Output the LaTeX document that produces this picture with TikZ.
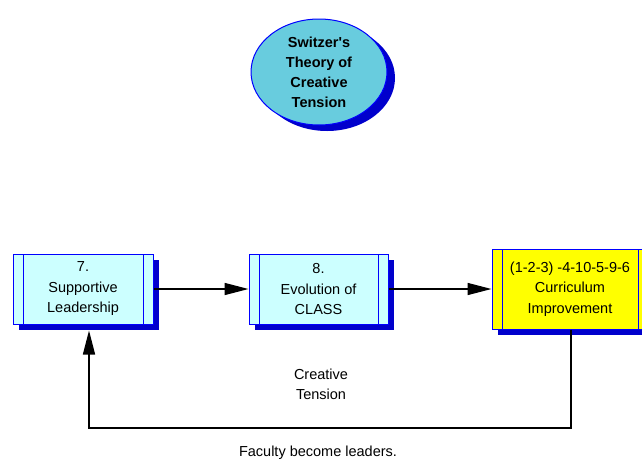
\documentclass[tikz,border=0pt]{standalone}
\usepackage{fontspec}
\setmainfont{Liberation Sans}
\usetikzlibrary{arrows.meta,shadows,shapes.geometric}

\definecolor{ellcyan}{RGB}{104,204,222}
\definecolor{boxcyan}{RGB}{204,255,255}
\definecolor{boxyellow}{RGB}{255,255,0}
\definecolor{edgeblue}{RGB}{0,0,255}
\definecolor{shadeblue}{RGB}{0,0,204}

\tikzset{
	stage/.style={draw=edgeblue, line width=1pt, fill=boxcyan, align=center, inner sep=0pt,
		font=\fontsize{14.5}{20.5}\selectfont,
		drop shadow={shadow xshift=6pt, shadow yshift=-6pt, fill=shadeblue, opacity=1},
		path picture={
			\draw[edgeblue, line width=1pt]
				([xshift=10pt]path picture bounding box.north west) -- ([xshift=10pt]path picture bounding box.south west)
				([xshift=-10pt]path picture bounding box.north east) -- ([xshift=-10pt]path picture bounding box.south east);
		}},
	theory/.style={ellipse, draw=edgeblue, line width=1pt, fill=ellcyan, align=center, inner sep=0pt,
		minimum width=136pt, minimum height=106pt,
		font=\fontsize{14.5}{20}\selectfont\bfseries,
		drop shadow={shadow xshift=8pt, shadow yshift=-6pt, fill=shadeblue, opacity=1}},
	flow/.style={line width=1.5pt, -{Triangle[length=24pt,width=12pt]}},
	caption/.style={align=center, font=\fontsize{14.5}{20}\selectfont}
}

\begin{document}
\begin{tikzpicture}[x=1pt, y=-1pt]
	\useasboundingbox (0,0) rectangle (642,464);
	
	\node[theory] (switzer) at (319, 72) {Switzer\textquotesingle s\\Theory of\\Creative\\Tension};
	
	\node[stage, minimum width=140pt, minimum height=70pt] (lead) at (83, 289)    {7.\\Supportive\\Leadership};
	\node[stage, minimum width=139pt, minimum height=70pt] (class) at (318.5, 289) {8.\\Evolution of\\CLASS};
	\node[stage, fill=boxyellow, minimum width=156pt, minimum height=80pt] (curr) at (570, 289) {(1-2-3) -4-10-5-9-6\\Curriculum\\Improvement};
	
	\coordinate (backR) at (571, 428);
	\coordinate (backL) at (89, 428);
	
	\draw[flow] (lead) -- (class);
	\draw[flow] (class) -- (curr);
	\draw[flow] (curr.south -| backR) -- (backR) -- (backL) -- ([yshift=-6pt]lead.south -| backL);
	
	\node[caption] (tension) at (321, 384) {Creative\\Tension};
	\node[caption] (leaders) at (318, 453) {Faculty become leaders.};
	
\end{tikzpicture}
\end{document}
